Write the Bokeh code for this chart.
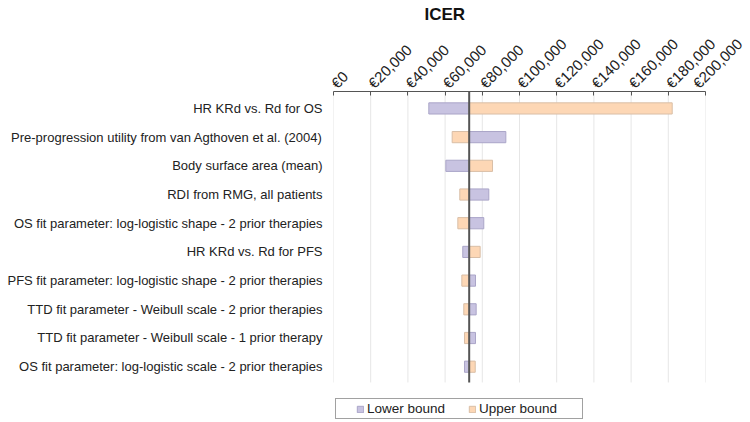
from bokeh.plotting import figure
from bokeh.models import (Range1d, FixedTicker, LinearAxis, Legend, LegendItem)
from bokeh.embed import file_html
from bokeh.resources import INLINE
import math

# ---- data ----
parameters = [
    "HR KRd vs. Rd for OS",
    "Pre-progression utility from van Agthoven et al. (2004)",
    "Body surface area (mean)",
    "RDI from RMG, all patients",
    "OS fit parameter: log-logistic shape - 2 prior therapies",
    "HR KRd vs. Rd for PFS",
    "PFS fit parameter: log-logistic shape - 2 prior therapies",
    "TTD fit parameter - Weibull scale - 2 prior therapies",
    "TTD fit parameter - Weibull scale - 1 prior therapy",
    "OS fit parameter: log-logistic scale - 2 prior therapies",
]
lower_bound = [51240, 92650, 60400, 83500, 80800, 69500, 76350, 76700, 76350, 70430]
upper_bound = [182100, 63800, 85500, 67900, 66850, 78850, 69000, 70050, 70430, 76200]
base_icer = 72950
x_ticks = [0, 20000, 40000, 60000, 80000, 100000, 120000, 140000, 160000, 180000, 200000]
x_tick_labels = ["€0", "€20,000", "€40,000", "€60,000", "€80,000", "€100,000",
                 "€120,000", "€140,000", "€160,000", "€180,000", "€200,000"]

n = len(parameters)
ypos = list(range(n))  # 0 = top row (range inverted)
y_top = -0.59          # upper edge of the bar area
y_bot = n - 1 + 0.55   # lower edge of the bar area
y_frame_bot = n - 1 + 1.875  # frame extends down to hold the legend

FONT = "Liberation Sans"

p = figure(width=745, height=420, output_backend="svg", toolbar_location=None,
           x_range=Range1d(0, 200000), y_range=Range1d(y_frame_bot, y_top),
           x_axis_location=None, y_axis_location=None,
           min_border_left=333, min_border_right=40, min_border_top=90,
           min_border_bottom=0, outline_line_color=None)

p.title.text = "ICER"
p.title.text_font = FONT
p.title.text_font_size = "17px"
p.title.text_font_style = "bold"
p.title.align = "left"
p.title.offset = 91
p.title.standoff = 5
p.title.text_line_height = 0.6
p.title.text_color = "#111111"

# top axis
xaxis = LinearAxis(ticker=FixedTicker(ticks=x_ticks))
xaxis.major_label_overrides = {t: l for t, l in zip(x_ticks, x_tick_labels)}
xaxis.major_label_orientation = math.pi / 4
xaxis.major_label_text_font = FONT
xaxis.major_label_text_font_size = "15px"
xaxis.major_label_text_color = "#222222"
xaxis.major_tick_in = 4
xaxis.major_tick_out = 0
xaxis.minor_tick_line_color = None
xaxis.axis_line_color = "#555555"
xaxis.major_tick_line_color = "#555555"
xaxis.major_label_standoff = 6
p.add_layout(xaxis, "above")

# left axis with parameter labels
yaxis = LinearAxis(ticker=FixedTicker(ticks=ypos))
yaxis.major_label_overrides = {i: s for i, s in zip(ypos, parameters)}
yaxis.major_label_text_font = FONT
yaxis.major_label_text_font_size = "13px"
yaxis.major_label_text_color = "#222222"
yaxis.axis_line_color = None
yaxis.major_tick_line_color = None
yaxis.minor_tick_line_color = None
yaxis.major_tick_out = 0
yaxis.major_tick_in = 0
yaxis.major_label_standoff = 11
p.add_layout(yaxis, "left")

p.xgrid.visible = False
p.ygrid.visible = False

# vertical gridlines limited to the bar area
p.segment(x0=x_ticks, y0=[y_top] * len(x_ticks), x1=x_ticks, y1=[y_bot] * len(x_ticks),
          line_color="#e6e6e6", line_width=1)

bar_h = 0.39
r_low = p.hbar(y=ypos, left=base_icer, right=lower_bound, height=bar_h,
               fill_color="#c8c3e1", line_color="#aaa5c8", line_width=1)
r_up = p.hbar(y=ypos, left=base_icer, right=upper_bound, height=bar_h,
              fill_color="#fdd7b5", line_color="#d9bea6", line_width=1)

# base-case line
p.segment(x0=[base_icer], y0=[y_top], x1=[base_icer], y1=[y_bot],
          line_color="#555555", line_width=2)

legend = Legend(items=[LegendItem(label="Lower bound", renderers=[r_low]),
                       LegendItem(label="Upper bound", renderers=[r_up])],
                orientation="horizontal", location=(2, 1))
legend.glyph_width = 8
legend.glyph_height = 8
legend.label_standoff = 3
legend.spacing = 0
legend.padding = 2
legend.margin = 0
legend.label_width = 101
legend.title = " "
legend.title_location = "left"
legend.title_text_font_size = "1px"
legend.title_standoff = 17
legend.label_text_font = FONT
legend.label_text_font_size = "13.5px"
legend.label_text_color = "#222222"
legend.border_line_color = "#444444"
legend.border_line_width = 1
legend.background_fill_color = "white"
legend.label_height = 10
p.add_layout(legend, "center")

html = file_html(p, INLINE)
open("out.html", "w").write(html)
